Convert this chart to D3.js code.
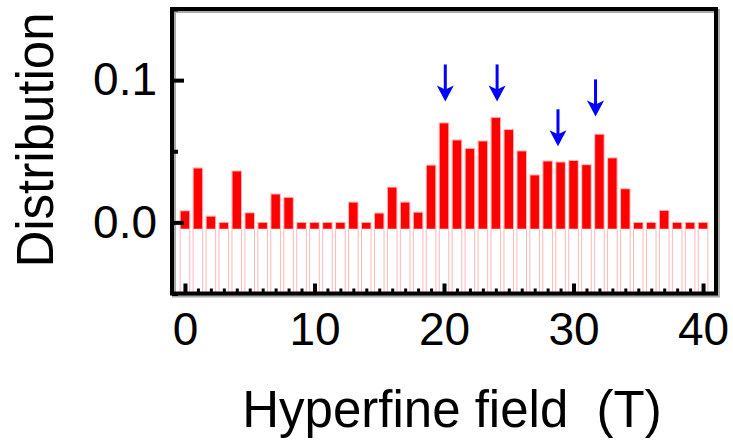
<!DOCTYPE html>
<html>
<head>
<meta charset="utf-8">
<script src="https://cdn.jsdelivr.net/npm/d3@7"></script>
<style>
  body { margin: 0; background: #fff; }
  svg { font-family: "Liberation Sans", Arial, sans-serif; }
</style>
</head>
<body>
<svg id="chart" width="733" height="440"></svg>
<script>
// Hyperfine field values (T), one bar per tesla
var field = [0, 1, 2, 3, 4, 5, 6, 7, 8, 9, 10, 11, 12, 13, 14, 15, 16, 17, 18, 19, 20,
             21, 22, 23, 24, 25, 26, 27, 28, 29, 30, 31, 32, 33, 34, 35, 36, 37, 38, 39, 40];

// Distribution
var distribution = [0.0082, 0.0383, 0.0044, 0, 0.0362, 0.0068, 0, 0.020, 0.0176, 0,
                    0, 0, 0, 0.0143, 0, 0.0066, 0.0248, 0.0143, 0.0072, 0.0403,
                    0.070, 0.058, 0.052, 0.0573, 0.0738, 0.0653, 0.0503, 0.0334, 0.0432, 0.0425,
                    0.0435, 0.0406, 0.062, 0.0454, 0.0237, 0, 0, 0.0084, 0, 0, 0];

// Blue arrows marking the sub-peaks (x in T, tip in distribution units)
var arrowField = [20.1, 24.1, 28.8, 31.7];
var arrowTip = [0.085, 0.085, 0.0535, 0.0745];

var xTicks = [0, 10, 20, 30, 40];
var yTicks = [0, 0.1];
var yMinor = [-0.05, 0.05, 0.15];

var svg = d3.select("svg");

var x = d3.scaleLinear().domain([-1, 41]).range([172, 716]);
var y = d3.scaleLinear().domain([-0.05, 0.15]).range([293.5, 9]);

var barW = x(0.74) - x(0);
var redFloor = -0.0045; // red fill starts a bit under zero, like the original

// outline bars from the bottom of the frame up to the value
svg.append("g")
  .selectAll("rect")
  .data(field)
  .enter().append("rect")
    .attr("x", function(d) { return x(d) - barW / 2; })
    .attr("y", function(d, i) { return y(distribution[i]); })
    .attr("width", barW)
    .attr("height", function(d, i) { return y(-0.05) - y(distribution[i]); })
    .attr("fill", "none")
    .attr("stroke", "#ffb8b8")
    .attr("stroke-width", 1);

// red filled part
svg.append("g")
  .selectAll("rect")
  .data(field)
  .enter().append("rect")
    .attr("x", function(d) { return x(d) - barW / 2 + 0.5; })
    .attr("y", function(d, i) { return y(distribution[i]) + 0.5; })
    .attr("width", barW - 1)
    .attr("height", function(d, i) { return y(redFloor) - y(distribution[i]) - 0.5; })
    .attr("fill", "#ff0000");

// frame (with a faint grey shadow)
svg.append("rect")
    .attr("x", x(-1) + 2).attr("y", y(0.15) + 2)
    .attr("width", x(41) - x(-1)).attr("height", y(-0.05) - y(0.15))
    .attr("fill", "none").attr("stroke", "#aaa").attr("stroke-width", 4);
svg.append("rect")
    .attr("x", x(-1)).attr("y", y(0.15))
    .attr("width", x(41) - x(-1)).attr("height", y(-0.05) - y(0.15))
    .attr("fill", "none").attr("stroke", "#000").attr("stroke-width", 4);

// bottom axis: minor ticks every 1 T, majors every 10 T
svg.append("g")
    .attr("transform", "translate(0," + y(-0.05) + ")")
    .call(d3.axisBottom(x).tickValues(field).tickSize(-5).tickFormat(""))
    .call(function(g) { g.select(".domain").remove(); g.selectAll("line").attr("stroke-width", 3); });

var xAxis = svg.append("g")
    .attr("transform", "translate(0," + y(-0.05) + ")")
    .call(d3.axisBottom(x).tickValues(xTicks).tickSize(-10).tickPadding(19).tickFormat(d3.format("d")));
xAxis.select(".domain").remove();
xAxis.selectAll("line").attr("stroke-width", 4);
xAxis.selectAll("text").attr("font-size", 46).attr("fill", "#000")
    .style("font-family", "Liberation Sans, Arial, sans-serif");

// left axis
svg.append("g")
    .attr("transform", "translate(" + x(-1) + ",0)")
    .call(d3.axisLeft(y).tickValues(yMinor).tickSize(-6).tickFormat(""))
    .call(function(g) { g.select(".domain").remove(); g.selectAll("line").attr("stroke-width", 4); });

var yAxis = svg.append("g")
    .attr("transform", "translate(" + x(-1) + ",0)")
    .call(d3.axisLeft(y).tickValues(yTicks).tickSize(-12).tickPadding(15).tickFormat(d3.format(".1f")));
yAxis.select(".domain").remove();
yAxis.selectAll("line").attr("stroke-width", 4);
yAxis.selectAll("text").attr("font-size", 46).attr("fill", "#000")
    .style("font-family", "Liberation Sans, Arial, sans-serif");

// arrows
var arrowLen = 37;
var arrows = svg.append("g").selectAll("g")
  .data(arrowField)
  .enter().append("g")
    .attr("transform", function(d, i) { return "translate(" + x(d) + "," + y(arrowTip[i]) + ")"; });
arrows.append("line")
    .attr("x1", 0).attr("x2", 0)
    .attr("y1", -arrowLen).attr("y2", -6)
    .attr("stroke", "#0000ff").attr("stroke-width", 3);
arrows.append("path")
    .attr("d", "M0,0 L-8.5,-16 L0,-12 L8.5,-16 Z")
    .attr("fill", "#0000ff");

// axis titles
svg.append("text")
    .attr("x", 452).attr("y", 427)
    .attr("text-anchor", "middle")
    .attr("font-size", 51)
    .style("white-space", "pre")
    .text("Hyperfine field  (T)");

svg.append("text")
    .attr("transform", "translate(53,140) rotate(-90)")
    .attr("text-anchor", "middle")
    .attr("font-size", 51)
    .text("Distribution");
</script>
</body>
</html>
